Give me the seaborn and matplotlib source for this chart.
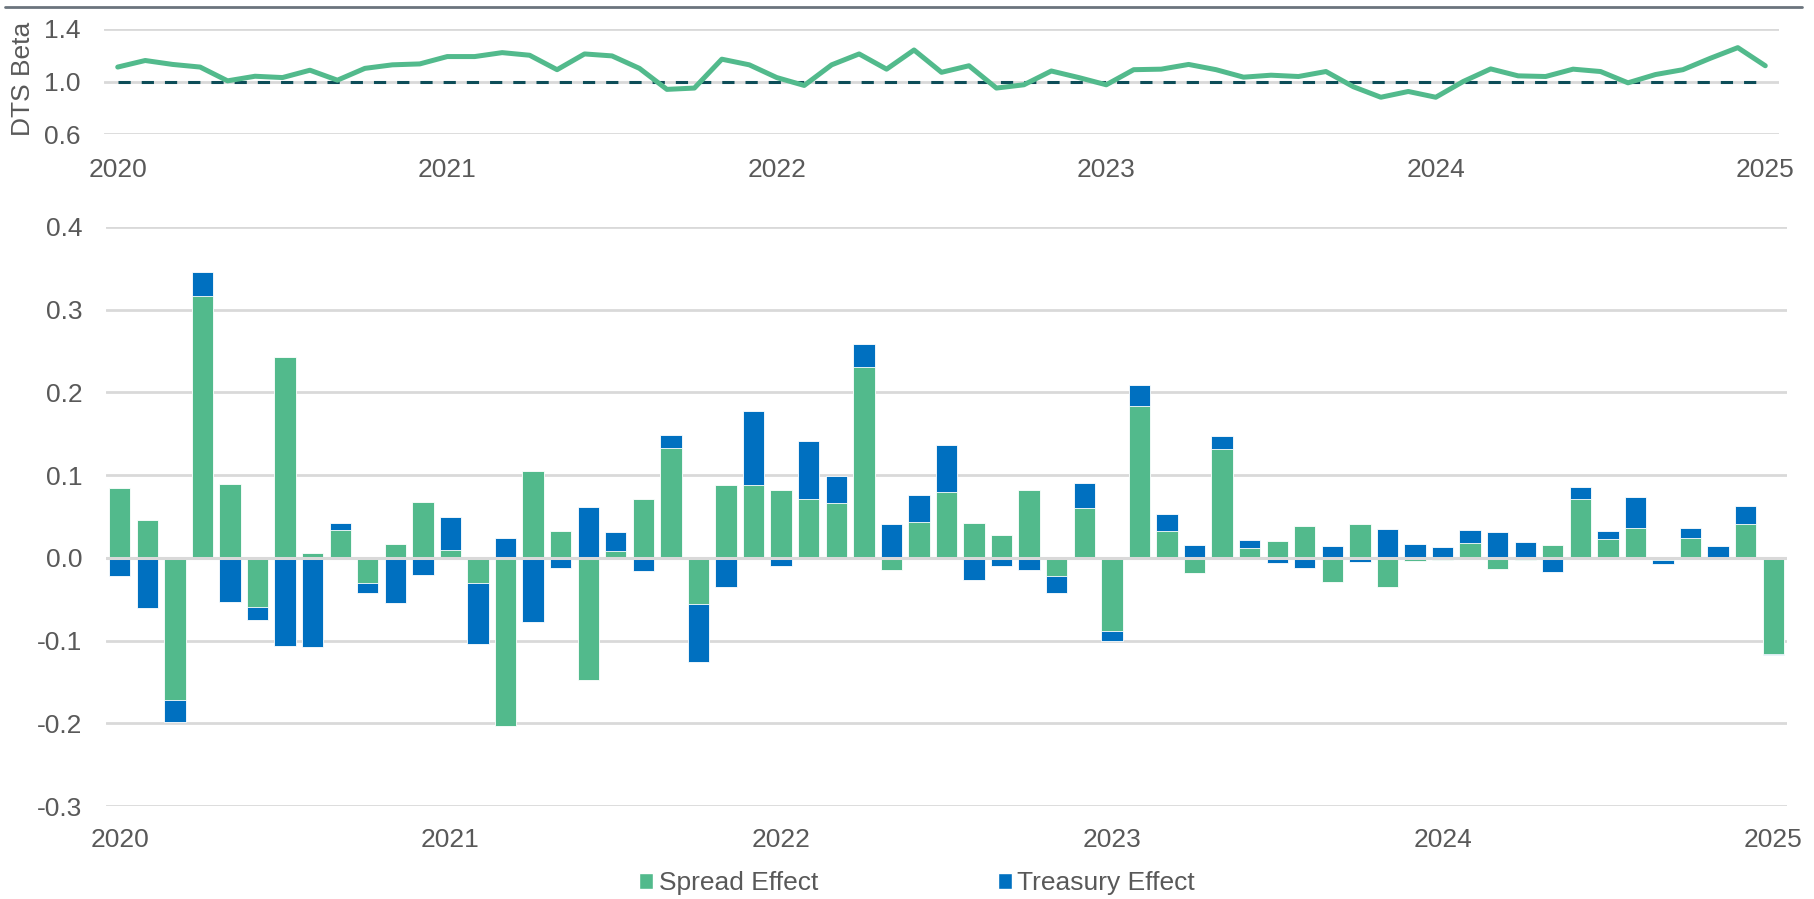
import numpy as np
import pandas as pd
import matplotlib
matplotlib.use("Agg")
import matplotlib.pyplot as plt
from matplotlib.lines import Line2D
from matplotlib.patches import Patch
from matplotlib.ticker import FormatStrFormatter
import seaborn as sns

sns.set_theme(style="white")
plt.rcParams['font.family'] = ['Liberation Sans', 'DejaVu Sans']
plt.rcParams['axes.unicode_minus'] = False

# monthly, Jan 2020 .. Jan 2025
months = pd.date_range("2020-01-01", "2025-01-01", freq="MS")
years = ["2020", "2021", "2022", "2023", "2024", "2025"]

dts_beta = [1.11, 1.16, 1.13, 1.11, 1.005, 1.04, 1.03, 1.086, 1.01, 1.10,
            1.127, 1.134, 1.19, 1.19, 1.22, 1.20, 1.09, 1.21, 1.195, 1.10,
            0.94, 0.95, 1.17, 1.127, 1.03, 0.97, 1.127, 1.21, 1.094, 1.24,
            1.07, 1.12, 0.95, 0.975, 1.08, 1.03, 0.975, 1.09, 1.094, 1.13,
            1.09, 1.033, 1.048, 1.038, 1.076, 0.96, 0.88, 0.924, 0.88, 1.0,
            1.096, 1.043, 1.038, 1.094, 1.076, 0.99, 1.053, 1.09, 1.177, 1.258,
            1.12]

spread = [0.085, 0.046, -0.172, 0.316, 0.089, -0.060, 0.243, 0.006, 0.034, -0.031,
          0.017, 0.068, 0.010, -0.030, -0.203, 0.105, 0.033, -0.148, 0.008, 0.071,
          0.133, -0.056, 0.088, 0.088, 0.082, 0.071, 0.066, 0.231, -0.015, 0.043,
          0.080, 0.042, 0.028, 0.082, -0.022, 0.060, -0.089, 0.183, 0.033, -0.018,
          0.132, 0.012, 0.020, 0.038, -0.029, 0.041, -0.035, -0.004, -0.003, 0.018,
          -0.013, -0.002, 0.015, 0.071, 0.023, 0.036, -0.003, 0.024, 0.0, 0.041,
          -0.116]

treasury = [-0.022, -0.061, -0.026, 0.029, -0.053, -0.015, -0.107, -0.108, 0.008, -0.012,
            -0.055, -0.021, 0.039, -0.074, 0.024, -0.077, -0.012, 0.062, 0.023, -0.016,
            0.016, -0.070, -0.035, 0.090, -0.010, 0.070, 0.033, 0.028, 0.041, 0.033,
            0.057, -0.027, -0.010, -0.015, -0.020, 0.030, -0.012, 0.026, 0.020, 0.015,
            0.015, 0.010, -0.006, -0.012, 0.014, -0.005, 0.035, 0.017, 0.013, 0.016,
            0.031, 0.019, -0.017, 0.015, 0.010, 0.038, -0.004, 0.012, 0.014, 0.022,
            -0.001]

GREEN = "#52BA8C"
BLUE = "#0070C0"
DASH = "#0D4D58"
GRID = "#D9D9D9"
TEXT = "#595959"
FS = 19

df = pd.DataFrame({"month": np.arange(len(months)), "beta": dts_beta,
                   "spread": spread, "treasury": treasury})
# excel-style stacking: treasury sits on the spread bar when signs agree
same = np.sign(df.spread) == np.sign(df.treasury)
df["treasury_top"] = np.where(same, df.spread + df.treasury, df.treasury)

W, H = 1815, 899
fig = plt.figure(figsize=(W / 100, H / 100), dpi=100)


def px_axes(left, right, top, bottom):
    return fig.add_axes([left / W, 1 - bottom / H, (right - left) / W, (bottom - top) / H])


ax1 = px_axes(104, 1779, 29, 134)
ax2 = px_axes(106, 1787, 227, 806)

# top panel: DTS beta
ax1.hlines(1.0, df.month.min(), df.month.max(), color=DASH, lw=2.2,
           linestyles=(0, (4, 3.6)), zorder=2)
sns.lineplot(data=df, x="month", y="beta", ax=ax1, color=GREEN, lw=3.6, zorder=3)
ax1.set_xlim(-0.5, 60.5)
ax1.set_ylim(0.6, 1.4)
ax1.set_yticks([0.6, 1.0, 1.4])
ax1.set_xticks(df.month[::12], years)
ax1.yaxis.set_major_formatter(FormatStrFormatter('%.1f'))
ax1.grid(axis='y', color=GRID, lw=2)
ax1.set_axisbelow(True)
ax1.set_xlabel("")
ax1.set_ylabel("")
ax1.tick_params(axis='x', length=0, labelsize=FS, labelcolor=TEXT, pad=17.5)
ax1.tick_params(axis='y', length=0, labelsize=FS, labelcolor=TEXT, pad=17)
sns.despine(ax=ax1, left=True, bottom=True)

# bottom panel: spread / treasury effect
sns.barplot(data=df, x="month", y="treasury_top", ax=ax2, color=BLUE, saturation=1,
            width=0.775, errorbar=None, edgecolor="white", linewidth=0.6)
sns.barplot(data=df, x="month", y="spread", ax=ax2, color=GREEN, saturation=1,
            width=0.775, errorbar=None, edgecolor="white", linewidth=0.6)
ax2.axhline(0, color=GRID, lw=2.2, zorder=3)
ax2.set_xlim(-0.5, 60.5)
ax2.set_ylim(-0.3, 0.4)
ax2.set_yticks(np.round(np.arange(-0.3, 0.41, 0.1), 1))
ax2.set_xticks(df.month[::12], years)
ax2.yaxis.set_major_formatter(FormatStrFormatter('%.1f'))
ax2.grid(axis='y', color=GRID, lw=2)
ax2.set_axisbelow(True)
ax2.set_xlabel("")
ax2.set_ylabel("")
ax2.tick_params(axis='x', length=0, labelsize=FS, labelcolor=TEXT, pad=15.5)
ax2.tick_params(axis='y', length=0, labelsize=FS, labelcolor=TEXT, pad=17)
sns.despine(ax=ax2, left=True, bottom=True)

fig.text(23 / W, 1 - 79 / H, "DTS Beta", rotation=90, ha='center', va='center',
         fontsize=FS, color=TEXT)
fig.add_artist(Line2D([5 / W, 1802 / W], [1 - 7 / H, 1 - 7 / H], color="#6B747D", lw=2))

handles = [Patch(facecolor=GREEN, label="Spread Effect"),
           Patch(facecolor=BLUE, label="Treasury Effect")]
fig.legend(handles=handles, loc="center", bbox_to_anchor=(917 / W, 1 - 883 / H), ncol=2,
           frameon=False, fontsize=FS, labelcolor=TEXT, handlelength=0.53,
           handleheight=0.55, handletextpad=0.2, columnspacing=6.8)

fig.savefig("out.png", dpi=100)
